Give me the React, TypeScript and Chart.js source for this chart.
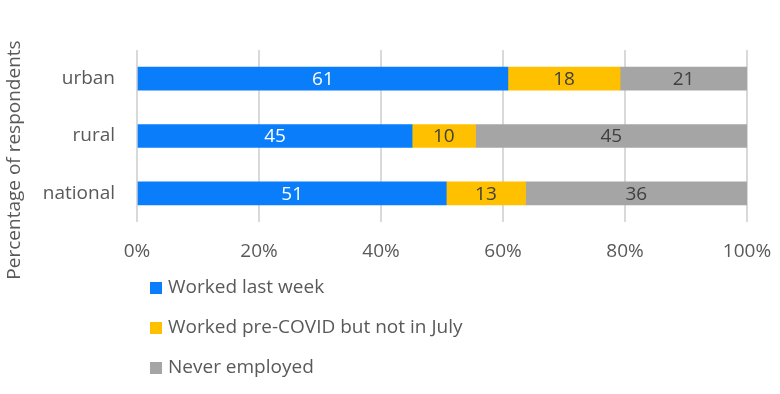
import React, { useEffect, useRef } from "react";
import { Chart, registerables } from "chart.js";

Chart.register(...registerables);

const categories = ["urban", "rural", "national"];
const workedLastWeek = [60.8, 45.1, 50.7];
const workedPreCovid = [18.4, 10.4, 13.0];
const neverEmployed = [20.8, 44.5, 36.3];
const seriesNames = ["Worked last week", "Worked pre-COVID but not in July", "Never employed"];
const seriesColors = ["#0A7DFB", "#FFC000", "#A5A5A5"];
const labelColors = ["#FFFFFF", "#404040", "#404040"];
const xTicks = ["0%", "20%", "40%", "60%", "80%", "100%"];
const yAxisTitle = "Percentage of respondents";

const FONT = "'Open Sans', 'Noto Sans', sans-serif";
const SIZE = 19;

const overlayPlugin = {
  id: "overlay",
  afterDatasetsDraw(chart: any) {
    const ctx = chart.ctx;
    ctx.save();
    ctx.font = `${SIZE}px ${FONT}`;
    ctx.textAlign = "center";
    ctx.textBaseline = "middle";
    chart.data.datasets.forEach((ds: any, di: number) => {
      const meta = chart.getDatasetMeta(di);
      meta.data.forEach((bar: any, i: number) => {
        const v = ds.data[i];
        const cx = (bar.x + bar.base) / 2;
        ctx.fillStyle = labelColors[di];
        ctx.fillText(String(Math.round(v)), cx, bar.y + 1);
      });
    });
    ctx.restore();
  },
  afterDraw(chart: any) {
    const ctx = chart.ctx;
    ctx.save();
    ctx.font = `${SIZE}px ${FONT}`;
    ctx.fillStyle = "#595959";
    ctx.textAlign = "center";
    ctx.textBaseline = "middle";
    ctx.translate(15, 160);
    ctx.rotate(-Math.PI / 2);
    ctx.fillText(yAxisTitle, 0, 0);
    ctx.restore();
    ctx.save();
    ctx.font = `${SIZE}px ${FONT}`;
    ctx.textBaseline = "middle";
    ctx.textAlign = "left";
    seriesNames.forEach((name, i) => {
      const y = 288 + i * 40;
      ctx.fillStyle = seriesColors[i];
      ctx.fillRect(150, y - 6, 12, 12);
      ctx.fillStyle = "#595959";
      ctx.fillText(name, 168, y);
    });
    ctx.restore();
  },
};

export default function App() {
  const ref = useRef<HTMLCanvasElement>(null);
  useEffect(() => {
    document.body.style.margin = "0";
    const canvas = ref.current!;
    const series = [workedLastWeek, workedPreCovid, neverEmployed];
    const chart = new Chart(canvas, {
      type: "bar",
      data: {
        labels: categories,
        datasets: series.map((d, i) => ({
          label: seriesNames[i],
          data: d,
          backgroundColor: seriesColors[i],
          borderWidth: 0,
          barThickness: 23,
        })),
      },
      options: {
        indexAxis: "y",
        responsive: false,
        animation: false,
        layout: { padding: { top: 50, right: 33, left: 0, bottom: 0 } },
        plugins: {
          legend: { display: false },
          tooltip: { enabled: false },
        },
        scales: {
          x: {
            stacked: true,
            min: 0,
            max: 100,
            afterFit(scale: any) {
              scale.height = 172;
              scale.paddingLeft = 0;
              scale.paddingRight = 0;
            },
            afterBuildTicks(scale: any) {
              scale.ticks = xTicks.map((_, i) => ({ value: i * 20 }));
            },
            ticks: {
              padding: 18,
              color: "#595959",
              font: { family: FONT, size: SIZE },
              callback: (_v: any, i: number) => xTicks[i],
            },
            grid: { color: "#D9D9D9", lineWidth: 2, drawTicks: false },
            border: { display: false },
          },
          y: {
            stacked: true,
            afterFit(scale: any) {
              scale.width = 137;
              scale.paddingTop = 0;
              scale.paddingBottom = 0;
            },
            ticks: {
              padding: 22,
              color: "#595959",
              font: { family: FONT, size: SIZE },
            },
            grid: { display: false, drawTicks: false },
            border: { display: false },
          },
        },
      },
      plugins: [overlayPlugin],
    } as any);
    return () => chart.destroy();
  }, []);
  return <canvas ref={ref} width={780} height={394} style={{ display: "block" }} />;
}
